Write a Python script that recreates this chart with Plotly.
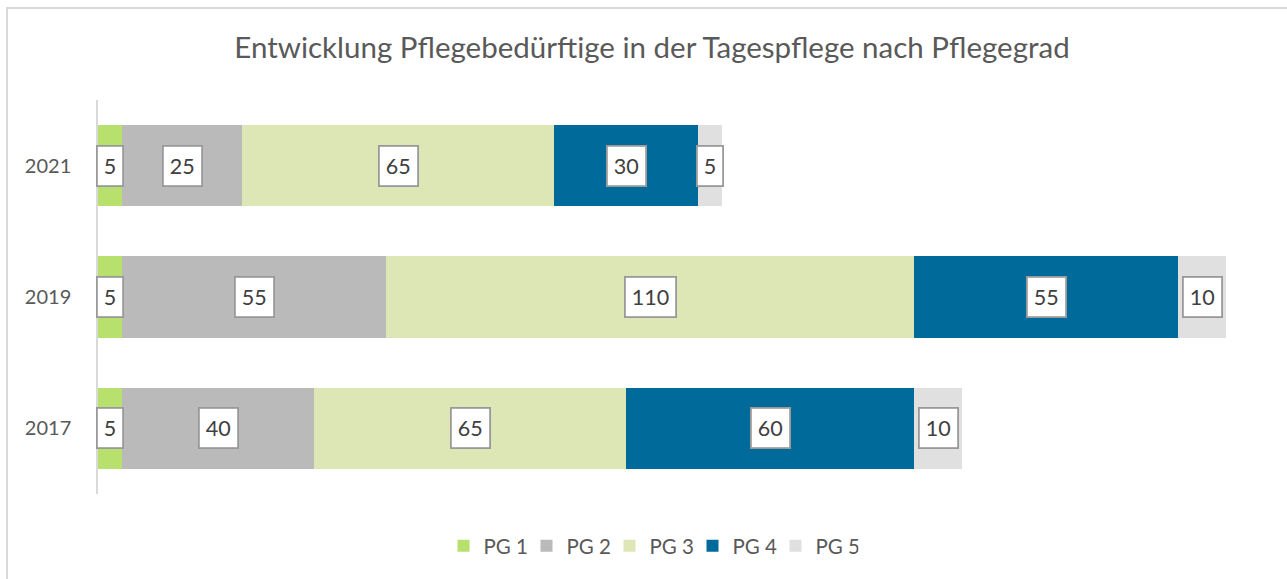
import plotly.graph_objects as go

years = ["2017", "2019", "2021"]
series_names = ["PG 1", "PG 2", "PG 3", "PG 4", "PG 5"]
pg1 = [5, 5, 5]
pg2 = [40, 55, 25]
pg3 = [65, 110, 65]
pg4 = [60, 55, 30]
pg5 = [10, 10, 5]
colors = ["#b7e06c", "#bababa", "#dde6b5", "#006a9a", "#e0e0e0"]
title_text = "Entwicklung Pflegebedürftige in der Tagespflege nach Pflegegrad"

FONT = "Lato"
series = [pg1, pg2, pg3, pg4, pg5]

fig = go.Figure()
for name, vals, col in zip(series_names, series, colors):
    fig.add_trace(go.Bar(
        y=years, x=vals, name=name, orientation="h",
        marker=dict(color=col, line=dict(width=0)),
        width=0.62, hoverinfo="x+name",
    ))

# data labels in boxes at segment centres
annotations = []
for i, yr in enumerate(years):
    base = 0
    for vals in series:
        v = vals[i]
        annotations.append(dict(
            x=base + v / 2, y=i, xref="x", yref="y", text=str(v),
            showarrow=False, font=dict(family=FONT, size=21.5, color="#404040"),
            bgcolor="white", bordercolor="#999999", borderwidth=1.8, borderpad=6,
        ))
        base += v

fig.update_layout(
    width=1287, height=579,
    barmode="stack",
    paper_bgcolor="white", plot_bgcolor="white",
    margin=dict(l=98, r=61, t=100, b=85),
    title=dict(text=title_text, x=652 / 1287, xanchor="center", y=1 - 48 / 579, yanchor="middle",
               font=dict(family=FONT, size=29.5, color="#595959")),
    xaxis=dict(range=[0, 235], showgrid=False, showticklabels=False, zeroline=False,
               showline=False, fixedrange=True),
    yaxis=dict(type="category", range=[-0.5, 2.5], showgrid=False, showline=True,
               linecolor="#d9d9d9", linewidth=1.5,
               ticks="", ticklabelstandoff=21, tickfont=dict(family=FONT, size=20, color="#595959"),
               zeroline=False),
    legend=dict(orientation="h", x=651 / 1287, xanchor="center", xref="container",
                y=1 - 546 / 579, yanchor="middle", yref="container",
                entrywidth=38, entrywidthmode="pixels",
                font=dict(family=FONT, size=20.5, color="#595959"), traceorder="normal"),
    annotations=annotations,
    shapes=[dict(type="rect", xref="paper", yref="paper",
                 x0=(7 - 98) / 1128, x1=(1300 - 98) / 1128,
                 y0=-(600 - 494) / 394, y1=(494 - 8) / 394,
                 line=dict(color="#d9d9d9", width=2), fillcolor="rgba(0,0,0,0)", layer="below")],
)

fig.write_html("out.html", config={"displayModeBar": False},
               post_script="document.body.style.margin='0';document.body.style.padding='0';")
